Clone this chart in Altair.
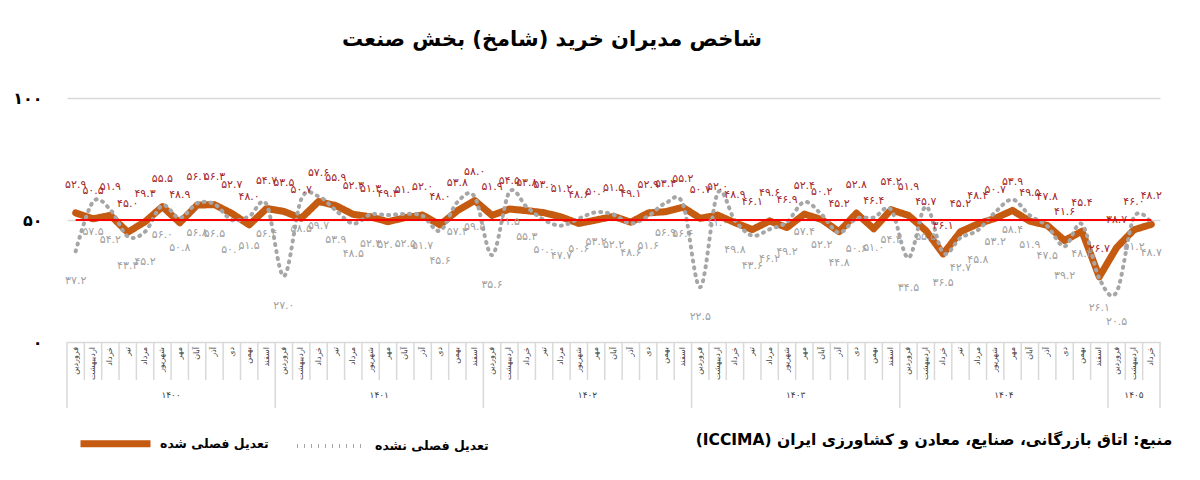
import altair as alt
import pandas as pd

# ---------------- data ----------------
months = ["فروردین", "اردیبهشت", "خرداد", "تیر", "مرداد", "شهریور",
          "مهر", "آبان", "آذر", "دی", "بهمن", "اسفند"]
years = ["۱۴۰۰", "۱۴۰۱", "۱۴۰۲", "۱۴۰۳", "۱۴۰۴", "۱۴۰۵"]

sa_name = "تعدیل فصلی شده"
nsa_name = "تعدیل فصلی نشده"

# seasonally adjusted (orange)
sa = [52.9, 50.5, 51.9, 45.0, 49.3, 55.5, 48.9, 56.1, 56.3, 52.7, 48.0, 54.7,
      53.5, 50.7, 57.6, 55.9, 52.3, 51.3, 49.3, 51.0, 52.0, 48.0, 53.8, 58.0,
      51.9, 54.5, 53.8, 53.0, 51.2, 48.6, 50.0, 51.5, 49.1, 52.9, 53.4, 55.2,
      50.7, 52.0, 48.9, 46.1, 49.6, 46.9, 52.4, 50.2, 45.2, 52.8, 46.4, 54.2,
      51.9, 45.7, 36.1, 45.2, 48.4, 50.7, 53.9, 49.5, 47.8, 41.6, 45.4, 26.7,
      38.7, 46.0, 48.2]
# not seasonally adjusted (gray dotted)
nsa = [37.2, 57.5, 54.2, 43.3, 45.2, 56.0, 50.8, 56.8, 56.5, 50.0, 51.5, 56.4,
       27.0, 58.5, 59.7, 53.9, 48.5, 52.3, 52.0, 52.5, 51.7, 45.6, 57.3, 59.5,
       35.6, 61.5, 55.3, 50.0, 47.7, 50.6, 53.2, 52.2, 48.6, 51.6, 56.9, 56.6,
       22.5, 61.0, 49.8, 43.6, 46.2, 49.2, 57.4, 52.2, 44.8, 50.6, 51.0, 54.3,
       34.5, 55.5, 36.5, 42.7, 45.8, 53.2, 58.4, 51.9, 47.5, 39.2, 48.3, 26.1,
       20.5, 51.2, 48.7]

y_ticks = [0, 50, 100]
y_tick_labels = ["۰", "۵۰", "۱۰۰"]
reference_level = 50

title_text = "شاخص مدیران خرید (شامخ) بخش صنعت"
source_text = "منبع: اتاق بازرگانی، صنایع، معادن و کشاورزی ایران (ICCIMA)"

# ---------------- tables ----------------
fa = str.maketrans("0123456789", "۰۱۲۳۴۵۶۷۸۹")
n = len(sa)
df = pd.DataFrame({
    "i": list(range(n)),
    "month": [months[k % 12] for k in range(n)],
    "year": [years[k // 12] for k in range(n)],
    "sa": sa,
    "nsa": nsa,
})
long = df.melt(id_vars=["i", "month", "year"], value_vars=["sa", "nsa"],
               var_name="key", value_name="value")
long["series"] = long["key"].map({"sa": sa_name, "nsa": nsa_name})
long["label"] = long["value"].map(lambda v: f"{v:.1f}".translate(fa))

bounds = pd.DataFrame({"b": [k - 0.5 for k in range(n + 1)]})
bounds["major"] = [(k % 12 == 0) or (k == n) for k in range(n + 1)]

year_rows = []
for k, yname in enumerate(years):
    start = 12 * k
    end = min(12 * k + 11, n - 1)
    year_rows.append({"year": yname, "c": (start + end) / 2})
year_df = pd.DataFrame(year_rows)

ref_df = pd.DataFrame({"x": [0], "x2": [n - 1], "y": [reference_level]})

# ---------------- encodings ----------------
FONT = "DejaVu Sans"
ORANGE = "#C55A11"
GRAY = "#A6A6A6"
RED_LABEL = "#A3262A"

x_scale = alt.Scale(domain=[-0.5, n - 0.5], nice=False, zero=False)
label_expr = " : ".join(
    [f"datum.value == {v} ? '{t}'" for v, t in zip(y_ticks[:-1], y_tick_labels[:-1])]
) + f" : '{y_tick_labels[-1]}'"
y_axis = alt.Axis(values=y_ticks, labelExpr=label_expr, grid=True,
                  gridColor="#D9D9D9", gridWidth=1.5, domain=False, ticks=False,
                  labelPadding=25, labelFont=FONT, labelFontSize=16,
                  labelFontWeight="bold", labelColor="#000000", title=None)
y_scale = alt.Scale(domain=[0, 100], nice=False, zero=True)

X = alt.X("i:Q", scale=x_scale, axis=None)
Y = alt.Y("value:Q", scale=y_scale, axis=y_axis)

series_domain = [sa_name, nsa_name]


def legend_spec():
    return alt.Legend(orient="none", legendX=10, legendY=307,
                      direction="horizontal", title=None,
                      symbolType="stroke", symbolSize=4900,
                      labelFont=FONT, labelFontSize=12.5,
                      labelFontWeight="bold", labelColor="#000000",
                      labelLimit=400, columnPadding=20, labelOffset=6)


color = alt.Color("series:N", scale=alt.Scale(domain=series_domain, range=[ORANGE, GRAY]),
                  legend=legend_spec())
dash = alt.StrokeDash("series:N", scale=alt.Scale(domain=series_domain, range=[[1, 0], [1, 6]]),
                      legend=legend_spec())
width_enc = alt.StrokeWidth("series:N", scale=alt.Scale(domain=series_domain, range=[7, 4]),
                            legend=legend_spec())

base = alt.Chart(long)

orange_line = base.transform_filter(alt.datum.key == "sa").mark_line(
    interpolate="linear", strokeJoin="round", strokeCap="round"
).encode(x=X, y=Y, color=color, strokeDash=dash, strokeWidth=width_enc)

gray_line = base.transform_filter(alt.datum.key == "nsa").mark_line(
    interpolate="cardinal", strokeCap="round"
).encode(x=X, y=Y, color=color, strokeDash=dash, strokeWidth=width_enc)

ref_rule = alt.Chart(ref_df).mark_rule(color="#FF0000", strokeWidth=2).encode(
    x=alt.X("x:Q", scale=x_scale, axis=None), x2="x2:Q",
    y=alt.Y("y:Q", scale=y_scale, axis=y_axis))

sa_labels = base.transform_filter(alt.datum.key == "sa").mark_text(
    font=FONT, fontSize=11, color=RED_LABEL, dy=-28, baseline="middle", align="center"
).encode(x=X, y=Y, text="label:N")

nsa_labels = base.transform_filter(alt.datum.key == "nsa").mark_text(
    font=FONT, fontSize=11, color="#A0A0A0", dy=30, baseline="middle", align="center"
).encode(x=X, y=Y, text="label:N")

minor_sep = alt.Chart(bounds).transform_filter(~alt.datum.major).mark_rule(
    color="#D9D9D9", strokeWidth=1.5
).encode(x=alt.X("b:Q", scale=x_scale, axis=None), y=alt.value(244), y2=alt.value(282))

major_sep = alt.Chart(bounds).transform_filter(alt.datum.major).mark_rule(
    color="#D9D9D9", strokeWidth=1.5
).encode(x=alt.X("b:Q", scale=x_scale, axis=None), y=alt.value(244), y2=alt.value(310))

month_text = alt.Chart(df).mark_text(
    font=FONT, fontSize=8, color="#404040", angle=270, align="right", baseline="middle"
).encode(x=alt.X("i:Q", scale=x_scale, axis=None), y=alt.value(249), text="month:N")

year_text = alt.Chart(year_df).mark_text(
    font=FONT, fontSize=9, color="#404040", align="center", baseline="middle"
).encode(x=alt.X("c:Q", scale=x_scale, axis=None), y=alt.value(297), text="year:N")

title_mark = alt.Chart(pd.DataFrame({"t": [title_text]})).mark_text(
    font=FONT, fontSize=21, fontWeight="bold", color="#000000", align="center",
    baseline="middle"
).encode(x=alt.value(485), y=alt.value(-58), text="t:N")

source_mark = alt.Chart(pd.DataFrame({"t": ["\u202b" + source_text + "\u202c"]})).mark_text(
    font=FONT, fontSize=15.5, fontWeight="bold", color="#000000", align="center",
    baseline="middle"
).encode(x=alt.value(867), y=alt.value(342), text="t:N")

chart = alt.layer(
    minor_sep, major_sep, month_text, year_text,
    orange_line, gray_line, ref_rule, sa_labels, nsa_labels,
    title_mark, source_mark
).properties(
    width=1093, height=244,
    autosize=alt.AutoSizeParams(type="none"),
    padding={"left": 67, "top": 98, "right": 40, "bottom": 138},
    background="#FFFFFF",
).configure_view(stroke=None)

chart.save("out.html", embed_options={"renderer": "svg", "actions": False})
